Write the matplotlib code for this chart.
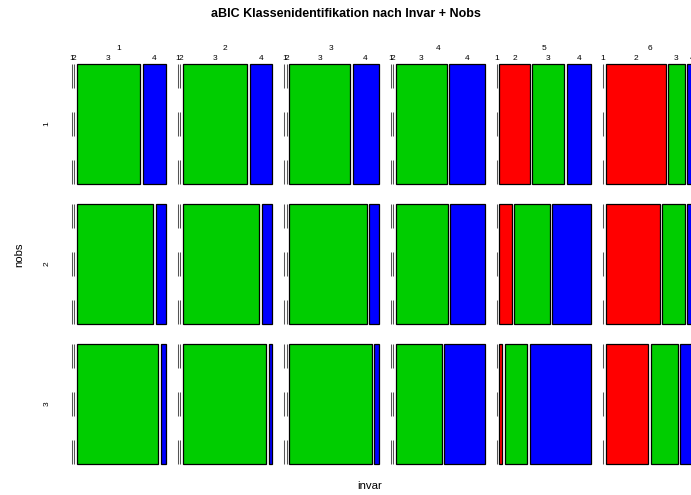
import matplotlib
matplotlib.use('Agg')
import matplotlib.pyplot as plt
from matplotlib.patches import Rectangle

# mosaic data: share (%) of identified class (1..4) per invar level and nobs level
invar_levels = ['1', '2', '3', '4', '5', '6']
nobs_levels = ['1', '2', '3']
class_labels = ['1', '2', '3', '4']

shares = {
    '1': [[0, 0, 73, 27], [0, 0, 88, 12], [0, 0, 94, 6]],
    '2': [[0, 0, 74, 26], [0, 0, 88, 12], [0, 0, 96, 4]],
    '3': [[0, 0, 70, 30], [0, 0, 89, 11], [0, 0, 95, 5]],
    '4': [[0, 0, 59, 41], [0, 0, 60, 40], [0, 0, 53, 47]],
    '5': [[0, 35, 37, 28], [0, 14, 41, 45], [0, 3, 26, 71]],
    '6': [[0, 69, 19, 12], [0, 62, 26, 12], [0, 49, 31, 20]],
}
# class 2 is red, 3 green, 4 blue (class 1 never identified)
class_colors = ['#FF0000', '#FF0000', '#00CD00', '#0000FF']

# layout in pixels
COL_X0 = 71.7
COL_STEP = 106.3
COL_W = 94.3
ROW_Y0 = 64
ROW_STEP = 140
ROW_H = 120
GAP = 2.5
ZERO_LW = 0.75
DASH = 17.28 / ZERO_LW   # 24 px on / 24 px off

fig = plt.figure(figsize=(6.91, 4.95), dpi=100)
ax = fig.add_axes([0, 0, 1, 1])
ax.set_xlim(0, 691)
ax.set_ylim(495, 0)
ax.axis('off')

font = 'Liberation Sans'

for i, lev in enumerate(invar_levels):
    x0 = COL_X0 + i * COL_STEP
    ax.text(x0 + COL_W / 2, 48, lev, ha='center', va='center', fontsize=6, family=font)
    for j, row in enumerate(shares[lev]):
        y0 = ROW_Y0 + j * ROW_STEP
        total = sum(row)
        content = COL_W - GAP * (len(row) - 1)
        x = x0
        for k, v in enumerate(row):
            w = content * v / total
            if v == 0:
                ax.plot([x, x], [y0, y0 + ROW_H], color='#555555', lw=ZERO_LW,
                        dashes=(DASH, DASH), solid_capstyle='butt',
                        dash_capstyle='butt')
            else:
                ax.add_patch(Rectangle((x, y0), w, ROW_H, facecolor=class_colors[k],
                                       edgecolor='black', lw=0.9))
            if j == 0:
                ax.text(x + w / 2, 58, class_labels[k], ha='center', va='center',
                        fontsize=6, family=font)
            x += w + GAP

for j, lev in enumerate(nobs_levels):
    ax.text(47, ROW_Y0 + j * ROW_STEP + ROW_H / 2, lev, ha='center', va='center',
            rotation=90, fontsize=6, family=font)

ax.text(345.5, 14, 'aBIC Klassenidentifikation nach Invar + Nobs', ha='center',
        va='center', fontsize=9, fontweight='bold', family=font)
ax.text(370, 486, 'invar', ha='center', va='center', fontsize=8.2, family=font)
ax.text(19, 255, 'nobs', ha='center', va='center', rotation=90, fontsize=8.2, family=font)

fig.savefig('out.png', dpi=100)
